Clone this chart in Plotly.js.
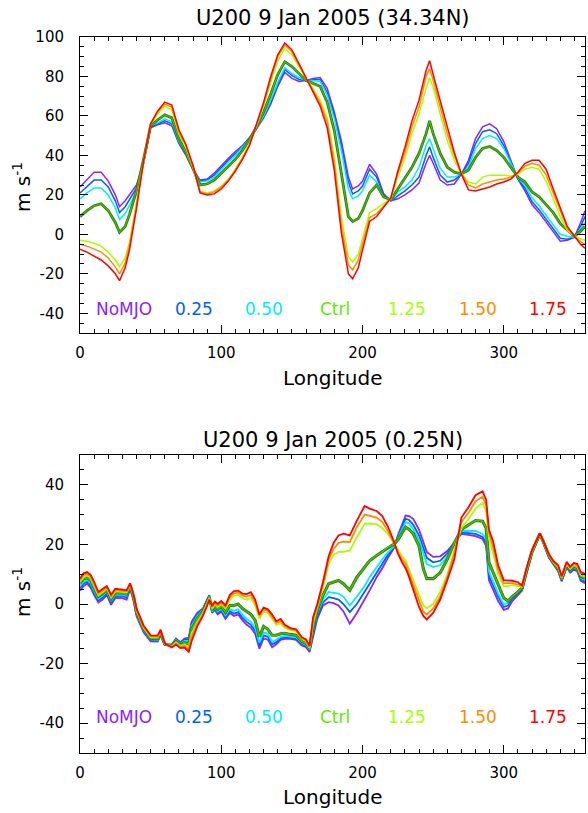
<!DOCTYPE html>
<html>
<head>
<meta charset="utf-8">
<script src="https://cdn.plot.ly/plotly-3.0.1.min.js"></script>
<style>
html,body{margin:0;padding:0;background:#fff;}
#chart{width:588px;height:813px;}
</style>
</head>
<body>
<div id="chart"></div>
<script>
// ---------------- DATA ----------------
const seriesNames = ['NoMJO','0.25','0.50','Ctrl','1.25','1.50','1.75'];

// Top panel: 34.34N
const lonTop = [0,5,10,15,20,25,28,32,35,40,45,50,55,60,65,70,75,80,85,90,95,100,105,110,115,120,125,130,135,140,145,150,155,160,165,170,175,180,185,190,193,197,200,205,210,215,220,225,230,235,240,245,247.5,250,255,260,265,270,275,280,285,290,295,300,305,310,315,320,325,330,335,340,345,350,355,357.5];
const noMJOTop = [24,28,31.5,31.5,27,20,14,17,20,25, 36,54,55.5,56.5,55,46,40,33,27.5,28, 31,35,38.5,42,45,49,53.5,59,66,75, 82,79,77.5,78,79,79.5,74,62,47.5,29, 23,24.5,27,35.5,30.5,20.5,17,18,20,22.5, 26,36,40,36,27.5,25,25.5,30.5,37.5,48.5, 54.5,56,53.5,47,37.5,28,22,15,11,6, 1.5,-3.5,-3,-1.5,7,12];
const s025Top  = [21,24.5,27.5,27.5,24,17,11,14,17.5,23.5, 36,54.5,56,57.5,56,46.5,40.5,33,27,27.5, 30,34,37.5,41,44.5,49,54,59.5,67,76, 83.5,80.5,78.5,78,78.5,78.5,72,60.3,45,26.5, 20.5,22,24.5,33,29,20,17,19.5,22,25, 29,40,44.3,39,30,26.5,27.5,30.5,36,46, 52,53,51,45,36.5,28,23.5,16.5,12.5,7.5, 3,-2,-2.5,-1.5,5,9];
const s050Top  = [18,21,23.5,23.5,20,13.5,7.5,10.5,14.5,22, 36.5,55,56.5,58.5,57,47,41,33,26.5,27, 29,33,36.5,40,44,48.5,54,60,68,77, 84.5,81.5,79.5,78,78,77.5,70.5,58.6,42.5,23, 18,19.5,22,30,26.5,19,17,21.5,24,27.5, 34,45,48.5,43.5,33.5,29,29,30.6,34,43.5, 48.5,50,48.5,43.5,36,28.5,25,18.5,14.5,9.5, 5,0,-1,-1.5,3.5,6];
const ctrlTop  = [9,12,14.5,15.5,12,6,1,4,10,22, 38,55,58,60.5,59,48.5,41.5,33,25,25.5, 27.5,31,34.5,38,42.5,48,54.5,62,71,81, 87.5,85,81.5,78,76.5,75,67,52.7,31,9, 6.5,8,12,21,25,19,17.5,23,29,34, 41,51,57.5,51,41,34,31.5,30.7,32.5,39, 43.5,44.5,42.5,39,34,29,26.5,21.5,19,15, 11,5.5,2,-1,2,4];
const s125Top  = [-3,-3.5,-4.5,-6,-9,-13,-16.5,-12,-4,16, 38,56,61,65,63,51,44,34,22,21, 22,24.5,28,33,39,46,55,65,77,88, 94,91,85,79,74,68,59,39,9,-11.5, -14,-10,-2,11,13,15.5,18,29,38.5,51, 61,74,79.5,74.5,61,47.5,37.5,30.8,26.5,25.5, 29,30,30,30,29.5,30.5,33,34,33,27, 18,9,2,-1,-2.5,-3];
const s150Top  = [-5,-6,-7.5,-9,-12,-16.5,-20,-14.5,-6,14.5, 37.5,56,62,66,64.5,52,45,34,21.5,20.5, 21.5,24,27.5,32.5,38.5,45.5,55.5,66,78.5,90, 96,92.5,86,79,73,66.5,57,36,4.5,-15.5, -18,-13,-5,8.5,10.5,14.5,18,31,41.5,54.5, 64.5,80,84,78,64,51,40,30.7,25,23.5, 25.5,26.5,27.5,28,29,31,34.5,36,35,30, 21,11,3,-1,-4,-5];
const s175Top  = [-7.5,-9,-11,-13,-16,-20,-23.5,-17,-8,13, 37,56,62.5,67,65.5,53,45.5,35,21,20, 20.5,23,27,32,38,45,56,67,80,91, 97,93.5,86.5,79.5,72.5,65,54,32.5,1,-20, -22.5,-17,-8,6.5,9,14,18.5,32,44,57.5, 68,83,88,81,67,54.5,41.5,30.5,22.5,22, 23,24,25.5,26.5,28,31.5,36,37.5,37.5,33, 23,13,4,-1,-5.5,-7];

// Bottom panel: 0.25N
const lonBot = [0,2.5,5,7.5,10,13,16,19,22,25, 30,33,35.5,38,40,45,50,55,57,60, 65,68,71,74,77,79,83,87,90,91.5, 93.5,95.5,97.5,100,103,106,109,112,115,118, 121,124,127,130,133,136,139,142,145,149, 153,157,160,162.5,165,168,172,176,179.5,183, 186.5,191,196,201.5,205,210,214,218,222,225, 228,230.5,233,236,240,243,245.5,250,255,260, 265,270,275,280,285,287.5,289.5,292.5,296,300, 303,306,310,313,316,320,325.5,328,332,335, 338.5,341,344.5,347,349.5,352,354.5,357.5];
const noMJOBot = [4.5,6,6.8,5.5,3,0.5,1.5,3,-0.3,2, 2,1.5,5,1,-4,-9.5,-12.5,-12.6,-10.5,-13.8, -13.5,-11.6,-12.8,-11.6,-11.3,-6,-3,-1.5,1.5,3, -3,-2,-3.5,-2.5,-5,-3,-4,-3.5,-5.5,-7, -8,-10,-15,-11.5,-12,-14.5,-13.5,-12,-11.7,-11.7, -12,-13.9,-14.5,-16.1,-11,-5,-0.5,0.6,0.3,-0.5, -2.5,-6.6,-3,1.5,4.5,9,12,15.5,18.5,23, 27,29.7,29.5,28.5,25,21,17.5,15.8,16,17.8, 20.8,23.5,23.2,22.8,21.8,19.5,8,4.5,1,-2, -1.5,1,3,4.5,10,17,23.2,20.6,15.5,13.3, 11,7.6,12.3,10.5,11.5,11,7.8,7];
const s025Bot  = [5.3,6.8,7.5,6.2,3.7,1.2,2.2,3.6,0.4,2.6, 2.6,2.2,5.5,1.4,-3.5,-9.1,-12.2,-12.3,-10.2,-13.7, -13.6,-11.9,-13.1,-12,-11.9,-6.7,-3.5,-1.8,1.3,2.8, -2.8,-1.6,-3,-2,-4.4,-2.4,-3.2,-2.7,-4.6,-6, -7,-9,-14,-10.5,-11,-13.5,-12.8,-11.5,-11.2,-11.3, -11.6,-13.5,-14.1,-15.6,-10,-4,0.5,2.3,2,1.5, 0,-2.7,0,4,7,10.5,13.5,16.5,18.8,22.5, 26,28.6,28.2,26.5,23,19,15.5,14,14.5,17, 20.5,24,23.8,23.5,22.5,20.5,9.5,6,2.5,-1, -0.5,1.8,3.6,4.9,10.3,17.2,23.3,20.7,15.7,13.5, 11.3,7.9,12.6,10.8,11.9,11.4,8.3,7.5];
const s050Bot  = [6,7.5,8,7,4.3,1.8,2.8,4.2,1,3.2, 3.1,2.8,5.8,1.8,-3.1,-8.7,-11.9,-12,-10,-13.6, -13.8,-12.2,-13.4,-12.4,-12.5,-7.4,-4,-2,1,2.6, -2.5,-1.2,-2.5,-1.5,-3.8,-1.7,-2.3,-1.8,-3.6,-5, -6,-8,-13,-9.5,-10,-12.7,-12,-11,-10.7,-10.9, -11.2,-13,-13.7,-15.2,-9,-3,1.5,4,3.8,3.5, 2.5,-0.5,2.5,6,9,12.5,15,17.3,19.2,22, 25,27.5,27,25,21.5,17,13.5,12.4,13,16, 20.2,24.5,24.5,24.5,23.5,22,11,7.5,3.5,-0.2, 0.5,2.5,4.2,5.2,10.6,17.4,23.4,20.8,15.9,13.7, 11.6,8.2,12.9,11.1,12.3,11.8,8.8,8];
const ctrlBot  = [7,8.5,8.8,8,5.4,2.5,3.5,4.8,1.8,3.8, 3.7,3.4,6.2,2.2,-2.7,-8.3,-11.5,-11.6,-9.6,-13.5, -14,-12.6,-13.8,-13,-13.4,-8.5,-5,-2.5,0.6,2.3, -2,-0.6,-1.8,-0.8,-2.8,-0.5,-0.5,0,-1.5,-2.5, -3.5,-5.5,-11,-7.5,-8.5,-10.5,-10.5,-10,-9.8,-10.2, -10.5,-12.5,-13.2,-14.8,-8,-2,3,6.8,7.4,7.9, 6.8,4.6,9,12.5,14.5,16.3,17.5,19,20,21.5, 24,25.8,25,23.5,19.5,12,8.5,8.5,10.5,15, 20.5,25,26.5,28,27.8,25.5,14,10.5,6,2, 1,2.5,4,5.5,11,17.6,23.5,20.9,16.1,13.9, 12,8.5,13.2,11.5,12.7,12.2,9.3,8.6];
const s125Bot  = [7.5,9,9.6,8.7,6.2,3,4,5.2,2.3,4.3, 4.1,3.9,6.5,2.5,-2.2,-7.9,-11.1,-11.2,-9.2,-13.4, -14.2,-13,-14.2,-13.6,-14.5,-10,-6,-3.2,0.2,2, -1.5,0,-1,0,-1.5,1.5,2.8,3,2,1.5, 2,-0.5,-5,-2.5,-3,-5,-7,-6.5,-8,-8.8, -9.2,-11.7,-12.5,-14.8,-6,-1,5.5,13.5,16.5,17.5, 17.5,17.9,22.5,26.9,27,26.8,25.5,23.5,20.5,18, 16,14.5,11.5,8,3,-0.5,-1.5,0,4,10, 18,25.5,28.5,32,34,31,22,17,10,6, 6,6.3,6,5.8,11.3,17.8,23.6,21,16.3,14.1, 12.4,8.8,13.5,11.9,13.1,12.6,9.8,9.2];
const s150Bot  = [8,9.7,10.2,9.3,6.8,3.5,4.5,5.6,2.7,4.7, 4.4,4.3,6.7,2.8,-1.9,-7.6,-10.8,-10.9,-9,-13.3, -14.4,-13.3,-14.5,-14,-15.2,-11,-6.7,-3.6,-0.2,1.7, -1,0.4,-0.5,0.5,-1,2.3,3.6,3.8,2.8,2.5, 3,0.5,-4,-1.8,-2.3,-4.2,-6.3,-5.8,-7.5,-8.4, -8.8,-11.4,-12.2,-14.5,-5,-0.5,6.5,14.8,18.5,20.5, 20.9,20.8,25.8,30,29.5,29,27.5,24.5,20.8,17.5, 15,13.5,10.2,6.5,1,-2.5,-3.5,-1.5,2.5,9, 17,27.5,30.5,34.5,36,33,24,19,11.5,7, 7,7,6.5,6,11.6,18,23.7,21.1,16.5,14.3, 12.7,9,13.8,12.2,13.5,13,10.2,9.7];
const s175Bot  = [8.5,10.3,10.7,9.8,7.4,4,5,6,3.1,5.1, 4.8,4.6,7,3,-1.5,-7.2,-10.5,-10.6,-8.6,-13.2, -14.6,-13.6,-14.8,-14.6,-16,-12.5,-7.5,-4,-0.6,1.4, -0.5,0.8,0,1,-0.5,3,4.3,4.5,3.5,3.3, 4,1.5,-3.5,-1.2,-1.8,-3.5,-5.8,-5,-7,-8.1, -8.5,-11.2,-11.9,-14,-4.5,0,7.4,16,20.5,23, 23.6,23,28,32.9,32,31.2,29.5,26,21.3,17, 14,12,9,5,-1,-4,-5.2,-3,1.5,8, 15,29,32.5,36.5,37.8,35,25,21,13,8, 8,7.8,7.3,6.2,11.8,18.2,23.8,21.2,16.7,14.5, 13,9.3,14.2,12.5,13.8,13.5,10.7,10.2];

const xTickVals = [0,100,200,300];
const xTickText = ['0','100','200','300'];
const yTopTickVals = [-40,-20,0,20,40,60,80,100];
const yTopTickText = ['-40','-20','0','20','40','60','80','100'];
const yBotTickVals = [-40,-20,0,20,40];
const yBotTickText = ['-40','-20','0','20','40'];

// ---------------- STYLE ----------------
const colors = ['rgb(140,35,255)','rgb(0,95,255)','rgb(0,235,255)','rgb(90,235,0)','rgb(165,255,0)','rgb(255,140,0)','rgb(255,0,0)'];
const ctrlDark = 'rgb(45,125,15)';
const ctrlLine = 'rgb(75,190,10)';
const labelLon = [10, 65.5, 115.5, 168.5, 216.5, 266.8, 316.5];
const FONT = 'DejaVu Sans, Verdana, sans-serif';

const W = 588, H = 813;
const fx = p => p / W;
const fy = p => 1 - p / H;
const plotL = 80, plotR = 585;
const topT = 37, topB = 333;
const botT = 455, botB = 753;

const topSeries = [noMJOTop, s025Top, s050Top, ctrlTop, s125Top, s150Top, s175Top];
const botSeries = [noMJOBot, s025Bot, s050Bot, ctrlBot, s125Bot, s150Bot, s175Bot];

function makeTraces(lon, series, xa, ya, w) {
  const tr = [];
  series.forEach((ys, i) => {
    if (i === 3) {
      tr.push({x: lon, y: ys, xaxis: xa, yaxis: ya, mode: 'lines', line: {color: ctrlDark, width: w + 1.3}, hoverinfo: 'skip', showlegend: false});
      tr.push({x: lon, y: ys, xaxis: xa, yaxis: ya, mode: 'lines', line: {color: ctrlLine, width: Math.max(1, w - 0.4)}, name: seriesNames[i], showlegend: false});
    } else {
      tr.push({x: lon, y: ys, xaxis: xa, yaxis: ya, mode: 'lines', line: {color: colors[i], width: w}, name: seriesNames[i], showlegend: false});
    }
  });
  return tr;
}

const traces = makeTraces(lonTop, topSeries, 'x', 'y', 1.5)
  .concat(makeTraces(lonBot, botSeries, 'x2', 'y2', 1.8));

const axBase = {
  showline: true, linecolor: '#000', linewidth: 1, mirror: 'allticks',
  ticks: 'inside', ticklen: 8, tickwidth: 1, tickcolor: '#000',
  showgrid: false, zeroline: false, fixedrange: true,
  tickfont: {family: FONT, size: 15, color: '#000'},
  tickmode: 'array'
};

function xAxis(anchor) {
  return Object.assign({}, axBase, {
    anchor: anchor, domain: [fx(plotL), fx(plotR)], range: [0, 357.5],
    tickvals: xTickVals, ticktext: xTickText, ticklabelstandoff: 6,
    minor: {ticks: 'inside', ticklen: 4, tickwidth: 1, tickcolor: '#000', dtick: 10, tick0: 0, showgrid: false}
  });
}
function yAxis(anchor, dom, rng, tv, tt) {
  return Object.assign({}, axBase, {
    anchor: anchor, domain: dom, range: rng,
    tickvals: tv, ticktext: tt, ticklabelstandoff: 12,
    minor: {ticks: 'inside', ticklen: 4, tickwidth: 1, tickcolor: '#000', dtick: 5, tick0: 0, showgrid: false}
  });
}

const annotations = [];
function txt(text, xp, yp, size, extra) {
  annotations.push(Object.assign({
    text: text, xref: 'paper', yref: 'paper', x: fx(xp), y: fy(yp),
    xanchor: 'center', yanchor: 'middle', showarrow: false,
    font: {family: FONT, size: size, color: '#000'}
  }, extra || {}));
}
const midX = (plotL + plotR) / 2;
txt('U200 9 Jan 2005 (34.34N)', midX, 18, 21);
txt('U200 9 Jan 2005 (0.25N)', midX, 440, 21);
txt('Longitude', midX, 378, 20);
txt('Longitude', midX, 797, 20);
txt('m s<sup>-1</sup>', 22, 187, 20, {textangle: -90});
txt('m s<sup>-1</sup>', 22, 592, 20, {textangle: -90});

seriesNames.forEach((nm, i) => {
  [['x', 'y'], ['x2', 'y2']].forEach(([xr, yr]) => {
    annotations.push({
      text: nm, xref: xr, yref: yr, x: labelLon[i], y: -38,
      xanchor: 'left', yanchor: 'middle', showarrow: false,
      font: {family: FONT, size: 17, color: colors[i]}
    });
  });
});

const layout = {
  width: W, height: H,
  margin: {l: 0, r: 0, t: 0, b: 0},
  paper_bgcolor: '#fff', plot_bgcolor: '#fff',
  showlegend: false,
  xaxis: xAxis('y'),
  yaxis: yAxis('x', [fy(topB), fy(topT)], [-50, 100], yTopTickVals, yTopTickText),
  xaxis2: xAxis('y2'),
  yaxis2: yAxis('x2', [fy(botB), fy(botT)], [-50, 50], yBotTickVals, yBotTickText),
  annotations: annotations
};

Plotly.newPlot('chart', traces, layout, {displayModeBar: false, staticPlot: true});
</script>
</body>
</html>
